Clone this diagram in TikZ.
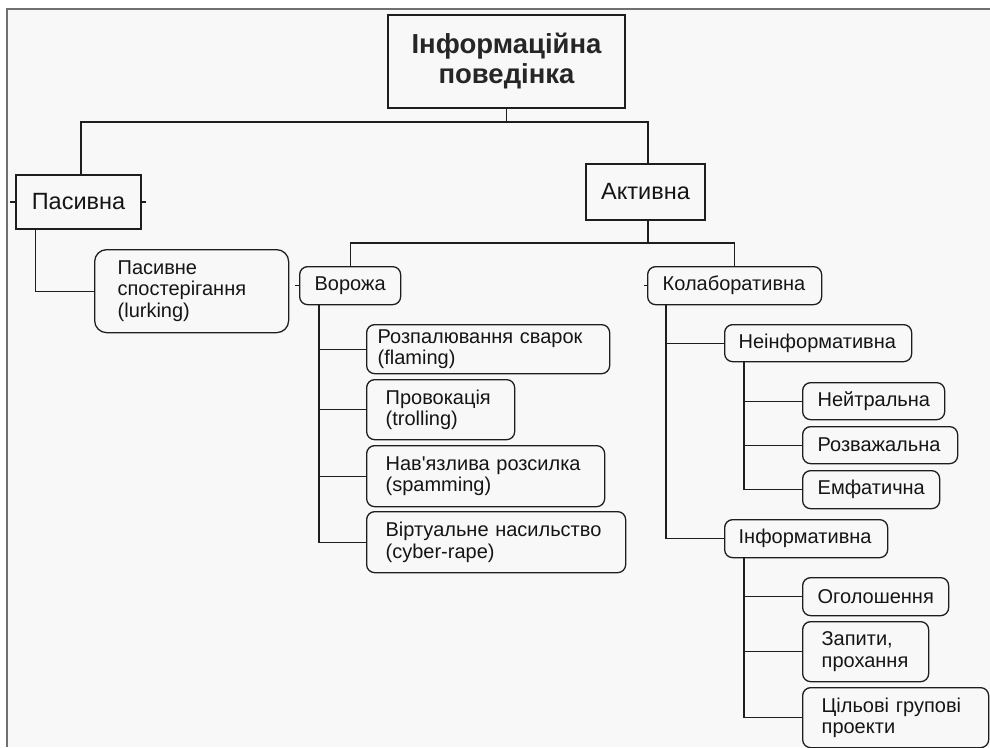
\documentclass[tikz,border=0pt]{standalone}
\usepackage{fontspec}
\setmainfont{Liberation Sans}
\definecolor{bgc}{HTML}{F8F8F8}
\definecolor{framec}{HTML}{707070}
\definecolor{linec}{HTML}{1E1E1E}
\definecolor{textc}{HTML}{151515}
\newcommand\bodyfs{\fontsize{20}{21.5}\selectfont}
\newcommand\topfs{\fontsize{23.5}{27}\selectfont}
\newcommand\rootfs{\fontsize{27.5}{30}\selectfont\bfseries}
\tikzset{
  sqbox/.style={draw=linec, line width=1.3pt, rectangle, inner sep=0pt, text=textc, align=center},
  rbox/.style={draw=linec, line width=1.3pt, rounded corners=8pt, anchor=north west, align=left,
     text=textc, inner ysep=0pt, font=\bodyfs},
  conn/.style={draw=linec, line width=1.2pt},
  tick/.style={draw=linec, line width=1.2pt}
}
\begin{document}
\begin{tikzpicture}[x=1pt,y=-1pt]
\useasboundingbox (0,0) rectangle (990,747);
\fill[white] (0,0) rectangle (990,747);
\fill[bgc] (7,9) rectangle (990,747);
\draw[framec, line width=1.6pt] (7,747) -- (7,9) -- (990,9);

% top levels
\node[sqbox, minimum width=237pt, minimum height=93pt, font=\rootfs, text=black!85] (root) at (506.5,61.5) {Інформаційна\\поведінка};
\node[sqbox, minimum width=125pt, minimum height=54pt, font=\topfs] (pas) at (78.5,202) {Пасивна};
\node[sqbox, minimum width=119pt, minimum height=56pt, font=\topfs] (act) at (645.5,192) {Активна};

% second level
\node[rbox, rounded corners=12pt, minimum height=83pt, inner xsep=23pt, text width=148pt] (lurk) at (94,249) {Пасивне\\спостерігання\\(lurking)};
\node[rbox, minimum height=38pt, inner xsep=15pt, text width=71pt] (vor) at (299,266) {Ворожа};
\node[rbox, minimum height=38pt, inner xsep=15pt, text width=144pt] (kol) at (647,266) {Колаборативна};

% hostile
\node[rbox, minimum height=49pt, inner xsep=11pt, text width=221pt] (flam) at (366,324) {Розпалювання сварок\\(flaming)};
\node[rbox, minimum height=60pt, inner xsep=19pt, text width=110pt] (trol) at (366,379) {Провокація\\(trolling)};
\node[rbox, minimum height=61pt, inner xsep=19pt, text width=200pt] (spam) at (366,445) {Нав\textquotesingle язлива розсилка\\(spamming)};
\node[rbox, minimum height=61pt, inner xsep=19pt, text width=221pt] (cyb) at (366,511) {Віртуальне насильство\\(cyber-rape)};

% collaborative
\node[rbox, minimum height=37pt, inner xsep=14pt, text width=159pt] (neinf) at (724,324) {Неінформативна};
\node[rbox, minimum height=37pt, inner xsep=15pt, text width=112pt] (neut) at (802,382) {Нейтральна};
\node[rbox, minimum height=37pt, inner xsep=15pt, text width=125pt] (rozv) at (802,426) {Розважальна};
\node[rbox, minimum height=38pt, inner xsep=15pt, text width=107pt] (emf) at (802,470) {Емфатична};
\node[rbox, minimum height=38pt, inner xsep=14pt, text width=135pt] (inf) at (724,519) {Інформативна};
\node[rbox, minimum height=38pt, inner xsep=15pt, text width=116pt] (ogol) at (802,577) {Оголошення};
\node[rbox, minimum height=60pt, inner xsep=19pt, text width=88pt] (zap) at (802,621) {Запити,\\прохання};
\node[rbox, minimum height=60pt, inner xsep=19pt, text width=148pt] (cil) at (802,687) {Цільові групові\\проекти};

% connectors
\coordinate (j0) at (506.5,122);
\coordinate (j1) at (648,243);
\draw[conn] (root.south) -- (j0);
\draw[conn] (j0) -| ([xshift=2.5pt]pas.north);
\draw[conn] (j0) -| ([xshift=2.5pt]act.north);
\draw[conn] ([xshift=2.5pt]act.south) -- (j1);
\draw[conn] (j1) -| (vor.north);
\draw[conn] (j1) -| (kol.north);

\draw[conn] ([xshift=20pt]pas.south west) |- (lurk.west);

\draw[conn] ([xshift=20pt]vor.south west) |- (flam.west);
\draw[conn] ([xshift=20pt]vor.south west) |- (trol.west);
\draw[conn] ([xshift=20pt]vor.south west) |- (spam.west);
\draw[conn] ([xshift=20pt]vor.south west) |- (cyb.west);

\draw[conn] ([xshift=19pt]kol.south west) |- (neinf.west);
\draw[conn] ([xshift=19pt]kol.south west) |- (inf.west);

\draw[conn] ([xshift=20pt]neinf.south west) |- (neut.west);
\draw[conn] ([xshift=20pt]neinf.south west) |- (rozv.west);
\draw[conn] ([xshift=20pt]neinf.south west) |- (emf.west);

\draw[conn] ([xshift=20pt]inf.south west) |- (ogol.west);
\draw[conn] ([xshift=20pt]inf.south west) |- (zap.west);
\draw[conn] ([xshift=20pt]inf.south west) |- (cil.west);

% small ticks
\draw[tick] (pas.west) -- ++(-5,0);
\draw[tick] (pas.east) -- ++(4,0);
\draw[tick] (vor.west) -- ++(-4,0);
\draw[tick] (kol.west) -- ++(-3,0);
\end{tikzpicture}
\end{document}
